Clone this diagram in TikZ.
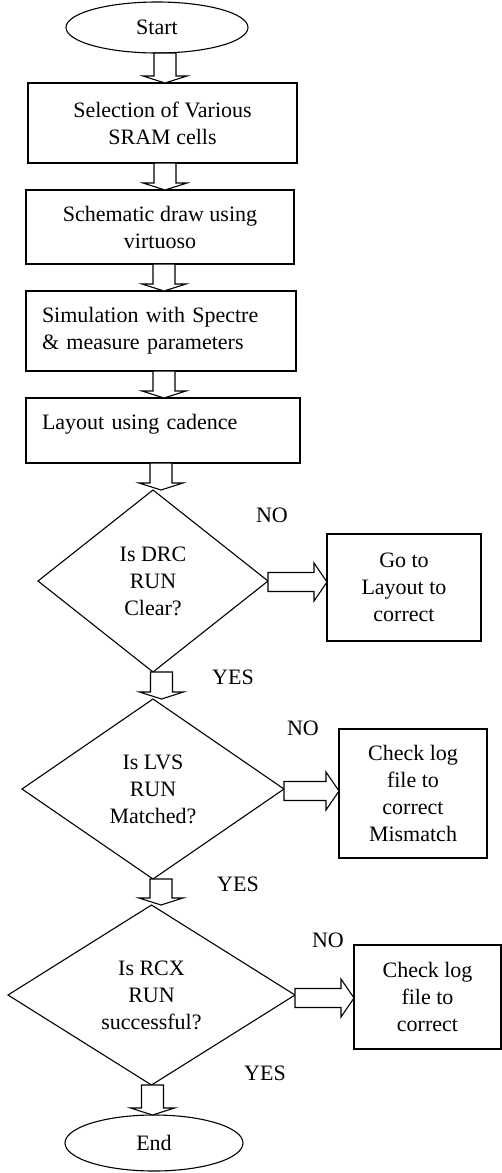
\documentclass[tikz,border=0pt]{standalone}
\usepackage{fontspec}
\setmainfont{Liberation Serif}
\usetikzlibrary{shapes.geometric,calc}
\tikzset{
  every node/.style={font=\fontsize{22}{27}\selectfont, inner sep=0pt, outer sep=0pt},
  box/.style={draw, line width=1.1pt, rectangle, align=center},
  term/.style={draw, line width=1.1pt, ellipse},
  dec/.style={draw, line width=1.1pt, diamond, align=center},
  lbl/.style={anchor=center},
  blk/.style={draw, line width=1.1pt, fill=white, line join=miter},
}
\newcommand\vblk[3]{\draw[blk] let \p1=(#1), \p2=(#2) in
  ({(#3-11)*1pt},\y1) -- ({(#3-11)*1pt},\y2+7pt) -- ({(#3-22)*1pt},\y2+7pt) -- ({#3*1pt},\y2)
  -- ({(#3+22)*1pt},\y2+7pt) -- ({(#3+11)*1pt},\y2+7pt) -- ({(#3+11)*1pt},\y1) -- cycle;}
\newcommand\hblk[3]{\draw[blk] let \p1=(#1), \p2=(#2) in
  (\x1,{-(#3-9.5)*1pt}) -- (\x2-13pt,{-(#3-9.5)*1pt}) -- (\x2-13pt,{-(#3-19)*1pt}) -- (\x2,{-#3*1pt})
  -- (\x2-13pt,{-(#3+19)*1pt}) -- (\x2-13pt,{-(#3+9.5)*1pt}) -- (\x1,{-(#3+9.5)*1pt}) -- cycle;}
\begin{document}
\begin{tikzpicture}[x=1pt,y=-1pt]
\useasboundingbox (0,0) rectangle (502,1173);
% terminals
\node[term, minimum width=182pt, minimum height=51pt] (start) at (157,27.5) {Start};
\node[term, minimum width=178pt, minimum height=56pt] (stop) at (154,1143) {End};
% process boxes
\node[box, minimum width=269pt, minimum height=80pt] (b1) at (162.5,123) {Selection of Various\\SRAM cells};
\node[box, minimum width=268pt, minimum height=74pt] (b2) at (160,227) {Schematic draw using\\virtuoso};
\node[box, align=left, text width=238pt, inner xsep=16pt, minimum height=80pt] (b3) at (161,331) {Simulation with Spectre\\\& measure parameters};
\node[box, align=left, text width=242pt, inner xsep=16pt, minimum height=65pt] (b4) at (163,430.5) {Layout using cadence\\[-10pt]\mbox{}};
% decisions
\node[dec, minimum width=230pt, minimum height=182pt] (d1) at (153,581) {Is DRC\\RUN\\Clear?};
\node[dec, minimum width=262pt, minimum height=180pt] (d2) at (153,789) {Is LVS\\RUN\\Matched?};
\node[dec, minimum width=287pt, minimum height=180pt] (d3) at (151.5,995) {Is RCX\\RUN\\successful?};
% side boxes
\node[box, minimum width=154pt, minimum height=107pt] (r1) at (404,587.5) {Go to\\Layout to\\correct};
\node[box, minimum width=148pt, minimum height=129pt] (r2) at (413,793.5) {Check log\\file to\\correct\\Mismatch};
\node[box, minimum width=147pt, minimum height=104pt] (r3) at (427.5,997) {Check log\\file to\\correct};
% labels
\node[lbl] (no1) at (272,515) {NO};
\node[lbl] (yes1) at (233,677) {YES};
\node[lbl] (no2) at (303,728) {NO};
\node[lbl] (yes2) at (238,884) {YES};
\node[lbl] (no3) at (328,940) {NO};
\node[lbl] (yes3) at (265,1073) {YES};
% block arrows
\vblk{start.south}{b1.north}{165}
\vblk{b1.south}{b2.north}{165}
\vblk{b2.south}{b3.north}{164}
\vblk{b3.south}{b4.north}{164}
\vblk{b4.south}{d1.north}{161}
\vblk{d1.south}{d2.north}{161.5}
\vblk{d2.south}{d3.north}{161}
\vblk{d3.south}{stop.north}{152.5}
\hblk{d1.east}{r1.west}{582}
\hblk{d2.east}{r2.west}{791}
\hblk{d3.east}{r3.west}{998}
\end{tikzpicture}
\end{document}
